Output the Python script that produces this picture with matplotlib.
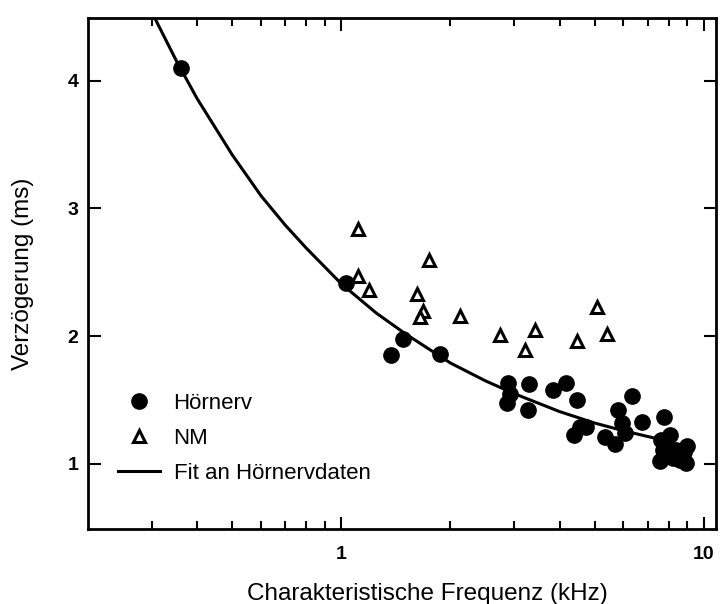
import numpy as np
import matplotlib
matplotlib.use("Agg")
import matplotlib.pyplot as plt
from matplotlib.ticker import FixedLocator, NullFormatter

plt.rcParams['font.family'] = ['Liberation Sans', 'DejaVu Sans']

# Hoernerv (auditory nerve) data: frequency (kHz), delay (ms)
hn_f = [0.36, 1.03, 1.48, 1.37, 1.87, 2.88, 2.92, 2.87, 3.30, 3.27, 3.84, 4.17,
        4.47, 4.38, 4.55, 4.73, 5.34, 5.69, 5.80, 5.94, 6.06, 6.33, 6.75, 7.76,
        7.57, 7.6, 8.05, 7.9, 8.4, 8.8, 9.0, 8.6, 8.9, 8.2, 7.7]
hn_d = [4.10, 2.42, 1.98, 1.85, 1.86, 1.63, 1.55, 1.48, 1.625, 1.42, 1.58, 1.63,
        1.50, 1.23, 1.29, 1.29, 1.21, 1.16, 1.42, 1.32, 1.24, 1.53, 1.33, 1.37,
        1.02, 1.19, 1.23, 1.13, 1.11, 1.09, 1.14, 1.03, 1.01, 1.05, 1.11]

# NM data
nm_f = [1.11, 1.74, 1.11, 1.19, 1.62, 1.68, 1.65, 2.13, 2.74, 3.21, 3.42, 5.07, 4.47, 5.40]
nm_d = [2.84, 2.60, 2.47, 2.36, 2.33, 2.20, 2.15, 2.16, 2.01, 1.89, 2.05, 2.23, 1.96, 2.02]

# fit curve, points
fit_f = [0.307, 0.35, 0.4, 0.5, 0.6, 0.7, 0.8, 1.0, 1.25, 1.5, 2.0, 2.5, 3.0,
         4.0, 5.0, 6.0, 7.0, 7.5]
fit_d = [4.48, 4.16, 3.86, 3.42, 3.10, 2.87, 2.69, 2.41, 2.18, 2.02, 1.79, 1.65,
         1.55, 1.41, 1.32, 1.26, 1.215, 1.195]

fig = plt.figure(figsize=(7.2, 6.04), dpi=100)
ax = fig.add_axes([0.1222, 0.124, 0.8722, 0.846])

ax.plot(hn_f, hn_d, 'o', color='black', markersize=11, label='Hörnerv')
ax.plot(nm_f, nm_d, '^', color='black', markerfacecolor='white', markeredgewidth=2.2,
        markersize=9, label='NM')
ax.plot(fit_f, fit_d, '-', color='black', linewidth=2.2, label='Fit an Hörnervdaten')

ax.set_xscale('log')
ax.set_xlim(0.2, 10.8)
ax.set_ylim(0.49, 4.49)

ax.xaxis.set_major_locator(FixedLocator([1, 10]))
ax.set_xticklabels(['1', '10'])
minors = [0.3, 0.4, 0.5, 0.6, 0.7, 0.8, 0.9, 2, 3, 4, 5, 6, 7, 8, 9]
ax.xaxis.set_minor_locator(FixedLocator(minors))
ax.xaxis.set_minor_formatter(NullFormatter())
ax.set_yticks([1, 2, 3, 4])

ax.tick_params(which='both', direction='in', top=True, right=True, width=1.5)
ax.tick_params(which='major', length=9, labelsize=14)
ax.tick_params(which='minor', length=6)
ax.tick_params(axis='x', which='major', pad=12)
ax.tick_params(axis='y', which='major', pad=7)
for lbl in ax.get_xticklabels() + ax.get_yticklabels():
    lbl.set_fontweight('bold')

for s in ax.spines.values():
    s.set_linewidth(2)

ax.set_xlabel('Charakteristische Frequenz (kHz)', fontsize=17.5, labelpad=13)
ax.xaxis.set_label_coords(0.541, -0.105)
ax.set_ylabel('Verzögerung (ms)', fontsize=17.5, labelpad=24)

ax.legend(loc='lower left', bbox_to_anchor=(0.016, 0.05), frameon=False, fontsize=16,
          handlelength=1.9, handletextpad=0.6, labelspacing=0.62)

fig.savefig('out.png', dpi=100)
